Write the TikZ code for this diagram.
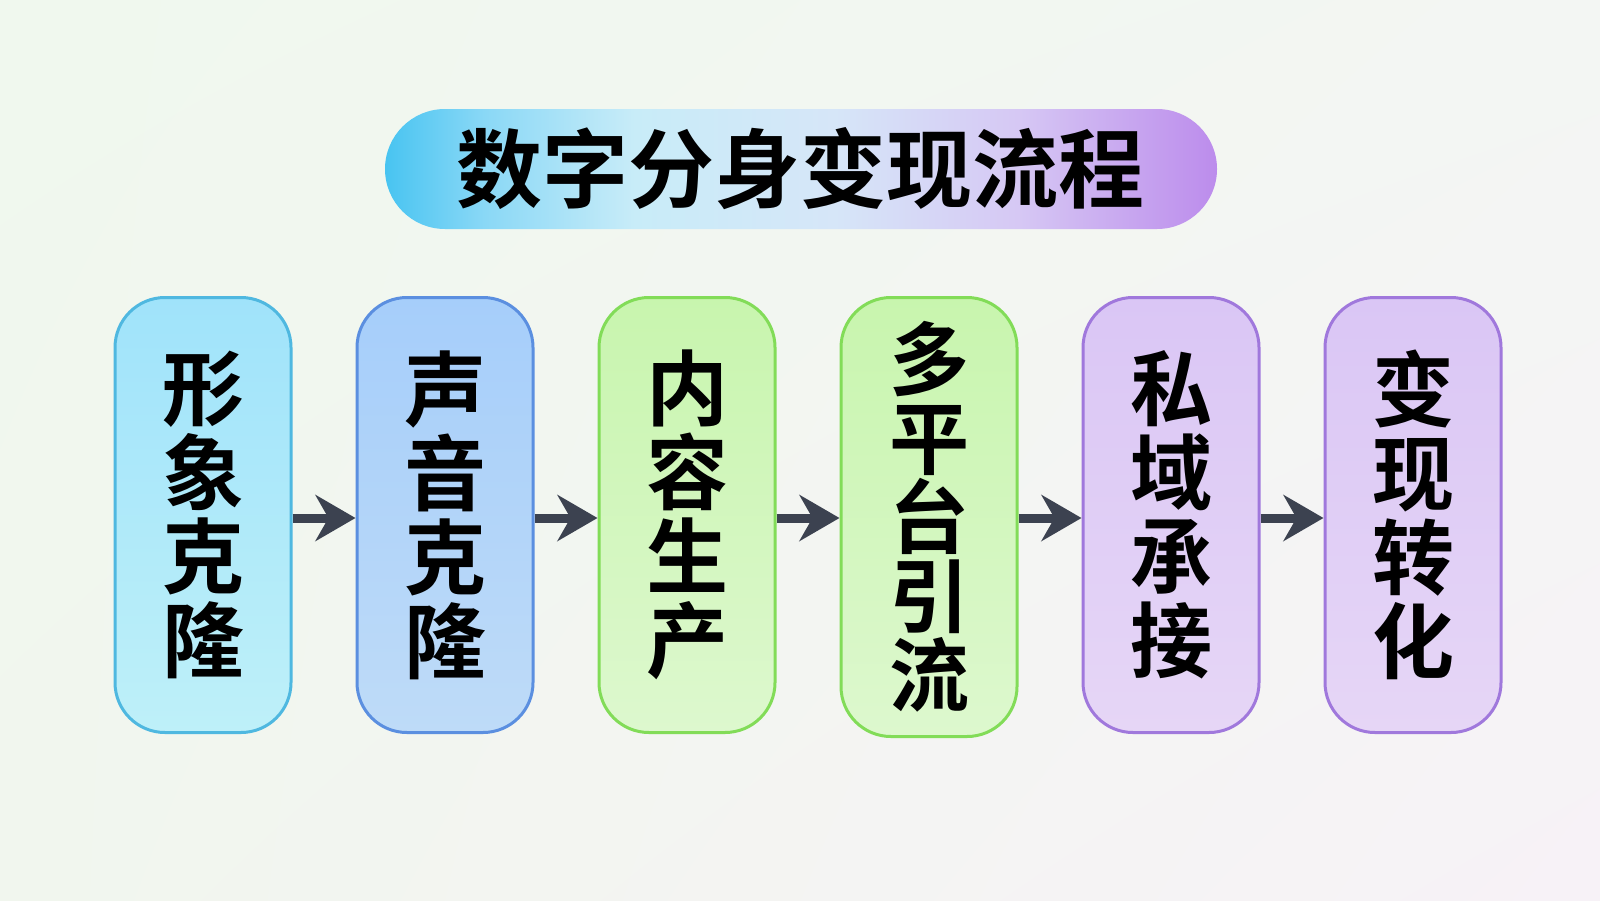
\documentclass[tikz,border=0pt]{standalone}
\usepackage{fontspec}
\newfontfamily\cjk{Noto Sans CJK SC}[BoldFont={* Bold}]
\usetikzlibrary{arrows.meta,shapes.misc,shadings}
\definecolor{bgTL}{HTML}{F0F8EE}
\definecolor{bgTR}{HTML}{F3F6F3}
\definecolor{bgBL}{HTML}{F1F6EE}
\definecolor{bgBR}{HTML}{F7F2F7}
\definecolor{tA}{HTML}{48C4F1}
\definecolor{tB}{HTML}{8AD8F6}
\definecolor{tC}{HTML}{C8ECF8}
\definecolor{tD}{HTML}{D6E6F8}
\definecolor{tE}{HTML}{D6C8F4}
\definecolor{tF}{HTML}{BC8CEC}
\pgfdeclarehorizontalshading{titleshade}{100bp}{color(0bp)=(tA); color(25bp)=(tA);
  color(31bp)=(tB); color(40bp)=(tC); color(52bp)=(tD); color(63bp)=(tE);
  color(75bp)=(tF); color(100bp)=(tF)}
\definecolor{cyT}{HTML}{A0E3FA}\definecolor{cyB}{HTML}{BEF0F9}\definecolor{cyD}{HTML}{4FB8E0}
\definecolor{blT}{HTML}{A6CEFA}\definecolor{blB}{HTML}{BEDBF8}\definecolor{blD}{HTML}{5B8FE0}
\definecolor{gnT}{HTML}{C8F5AE}\definecolor{gnB}{HTML}{DDF8CE}\definecolor{gnD}{HTML}{82DC58}
\definecolor{puT}{HTML}{DAC6F5}\definecolor{puB}{HTML}{E6D6F6}\definecolor{puD}{HTML}{A078DC}
\definecolor{arr}{HTML}{3C4250}
\tikzset{
  stepbox/.style={rounded corners=50pt, line width=3pt, minimum width=176pt,
    minimum height=435pt, inner sep=0pt, align=center, text=black,
    font=\cjk\bfseries\fontsize{82}{84}\selectfont},
  flowarrow/.style={draw=arr, line width=9pt,
    -{Stealth[length=40pt,width=46pt,inset=13pt]}},
}
\begin{document}
\begin{tikzpicture}[x=1pt,y=-1pt]
\useasboundingbox (0,0) rectangle (1600,900);
\shade[upper left=bgTL, upper right=bgTR, lower left=bgBL, lower right=bgBR]
  (0,0) rectangle (1600,900);
% title pill
\shade[rounded corners=60pt, shading=titleshade]
  (385,109) rectangle (1217,229);
\node[font=\cjk\bfseries\fontsize{86}{86}\selectfont, text=black] (title) at (800,169) {数字分身变现流程};
% boxes
\node[stepbox, draw=cyD, top color=cyT, bottom color=cyB] (b1) at (203,515) {形\\象\\克\\隆};
\node[stepbox, draw=blD, top color=blT, bottom color=blB] (b2) at (445,515) {声\\音\\克\\隆};
\node[stepbox, draw=gnD, top color=gnT, bottom color=gnB] (b3) at (687,515) {内\\容\\生\\产};
\node[stepbox, draw=gnD, top color=gnT, bottom color=gnB, minimum height=439pt,
  font=\cjk\bfseries\fontsize{80}{79}\selectfont] (b4) at (929,517) {多\\平\\台\\引\\流};
\node[stepbox, draw=puD, top color=puT, bottom color=puB] (b5) at (1171,515) {私\\域\\承\\接};
\node[stepbox, draw=puD, top color=puT, bottom color=puB] (b6) at (1413,515) {变\\现\\转\\化};
% arrows
\draw[flowarrow] ([yshift=-3pt]b1.east) -- ([yshift=-3pt]b2.west);
\draw[flowarrow] ([yshift=-3pt]b2.east) -- ([yshift=-3pt]b3.west);
\draw[flowarrow] ([yshift=-3pt]b3.east) -- ([yshift=-1pt]b4.west);
\draw[flowarrow] ([yshift=-1pt]b4.east) -- ([yshift=-3pt]b5.west);
\draw[flowarrow] ([yshift=-3pt]b5.east) -- ([yshift=-3pt]b6.west);
\end{tikzpicture}
\end{document}
